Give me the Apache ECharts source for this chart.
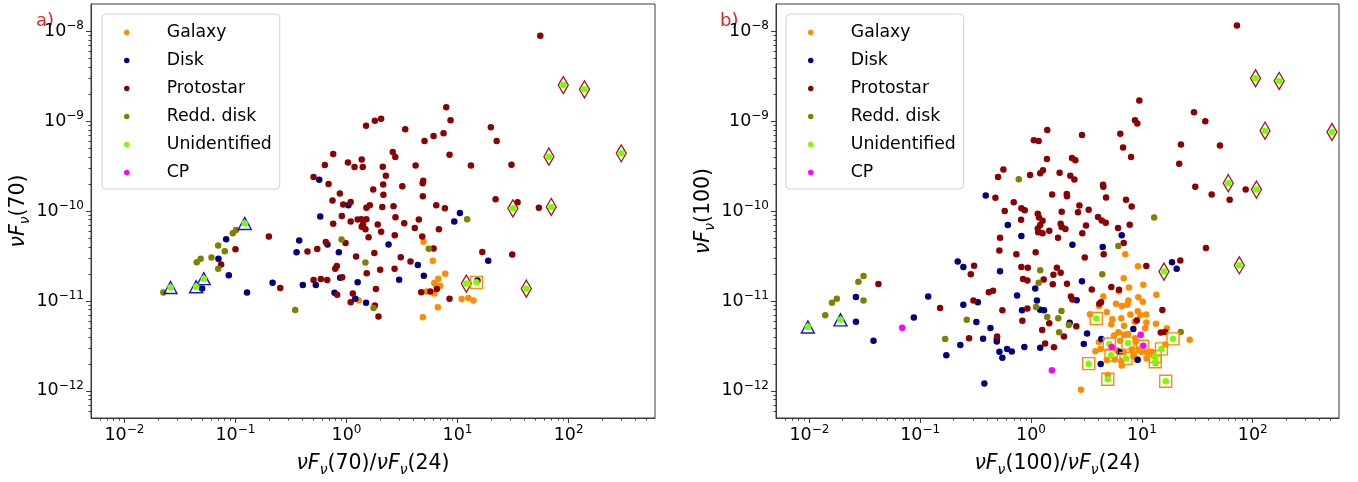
<!DOCTYPE html>
<html><head><meta charset="utf-8">
<script src="https://cdn.jsdelivr.net/npm/echarts@6/dist/echarts.min.js"></script>
<style>html,body{margin:0;padding:0;background:#fff}#c{width:1358px;height:482px}</style>
</head><body><div id="c"></div>
<script>
// ---------------- data ----------------
const CATEGORIES = ['Galaxy','Disk','Protostar','Redd. disk','Unidentified','CP'];
const X_MIN = 0.005, X_MAX = 600, Y_MIN = 5e-13, Y_MAX = 2e-8;
const MINOR_MANTISSA = [2,3,4,5,6,7,8,9];

// panel a: nuFnu(70)/nuFnu(24) vs nuFnu(70)
const A_GALAXY = [[4.94,4.55e-11],[5.99,2.79e-11],[7.74,2.01e-11],[6.70,1.77e-11],[6.17,1.58e-11],
[6.47,1.48e-11],[6.98,1.48e-11],[5.26,1.27e-11],[6.17,1.21e-11],[10.9,1.05e-11],
[12.5,1.08e-11],[13.9,1.01e-11],[1.29,1.01e-11],[6.65,8.49e-12],[4.87,6.61e-12]];
const A_DISK = [[0.568,2.22e-10],[1.04,1.16e-10],[0.580,8.67e-11],[0.375,4.70e-11],[0.355,3.48e-11],
[0.674,4.25e-11],[0.853,3.48e-11],[2.39,4.25e-11],[4.39,2.51e-11],[4.97,1.91e-11],
[2.98,1.72e-11],[0.877,1.81e-11],[1.26,1.61e-11],[0.216,1.59e-11],[0.127,1.24e-11],
[0.404,1.50e-11],[0.529,1.50e-11],[0.780,1.23e-11],[1.20,1.06e-11],[1.50,9.55e-12],
[0.0501,1.38e-11],[0.0703,2.94e-11],[0.0824,4.85e-11],[0.0871,1.93e-11],[10.5,9.51e-11],
[9.34,7.64e-11],[18.9,2.79e-11],[15.1,1.69e-11]];
const A_PROTOSTAR = [[1.50,8.87e-10],[1.80,1.01e-9],[2.05,1.06e-9],[3.38,8.13e-10],[5.04,6.01e-10],
[0.759,4.31e-10],[1.03,3.46e-10],[1.37,3.73e-10],[1.18,3.08e-10],[1.40,3.08e-10],
[2.12,3.10e-10],[2.61,4.53e-10],[2.75,3.99e-10],[4.19,3.21e-10],[0.638,3.24e-10],
[0.505,2.39e-10],[0.689,1.99e-10],[2.26,2.47e-10],[2.14,1.97e-10],[3.18,1.88e-10],
[4.91,2.17e-10],[4.85,2.04e-10],[0.871,1.57e-10],[1.74,1.73e-10],[2.15,1.52e-10],
[4.87,1.46e-10],[0.748,1.31e-10],[0.934,1.18e-10],[1.09,1.26e-10],[1.51,1.09e-10],
[1.62,1.16e-10],[2.10,1.11e-10],[2.65,1.13e-10],[0.907,8.81e-11],[0.759,7.21e-11],
[1.09,7.64e-11],[1.26,8.03e-11],[1.36,8.11e-11],[1.51,8.11e-11],[1.41,7.08e-11],
[1.37,6.68e-11],[1.48,6.25e-11],[1.91,7.08e-11],[2.76,8.53e-11],[3.31,7.33e-11],
[4.48,8.03e-11],[4.12,6.47e-11],[2.05,5.89e-11],[2.72,5.37e-11],[4.81,5.20e-11],
[0.200,5.20e-11],[0.100,3.75e-11],[0.651,4.51e-11],[0.98,4.40e-11],[0.545,3.78e-11],
[0.445,3.54e-11],[1.22,3.12e-11],[1.78,3.41e-11],[3.08,3.06e-11],[3.77,2.75e-11],
[0.818,2.44e-11],[0.791,2.28e-11],[1.52,2.03e-11],[2.01,2.22e-11],[2.71,2.28e-11],
[0.915,1.84e-11],[0.505,1.71e-11],[0.587,1.75e-11],[0.670,1.71e-11],[0.253,1.39e-11],
[1.84,1.36e-11],[1.14,1.21e-11],[0.824,1.17e-11],[1.09,9.70e-12],[1.80,8.93e-12],
[1.94,6.71e-12],[4.71,1.25e-11],[55.6,8.89e-9],[7.91,1.42e-9],[8.65,1.02e-9],
[6.08,6.82e-10],[7.48,7.30e-10],[19.95,8.55e-10],[22.5,6.01e-10],[8.47,4.23e-10],
[13.2,3.21e-10],[30.6,3.27e-10],[6.43,1.16e-10],[7.69,1.07e-10],[22.0,1.35e-10],
[34.7,1.25e-10],[54.0,1.09e-10],[6.79,6.25e-11],[1.58,5.1e-11],[6.08,3.84e-11],
[16.7,3.50e-11],[31.1,3.28e-11],[5.68,1.27e-11],[6.51,1.36e-11],[8.47,1.06e-11],
[0.0743,2.55e-11]];
const A_REDD = [[0.0224,1.24e-11],[0.0448,2.70e-11],[0.0486,2.94e-11],[0.0608,3.04e-11],[0.0699,4.14e-11],
[0.0802,3.56e-11],[0.0699,2.28e-11],[0.0946,5.65e-11],[0.1014,6.15e-11],[0.345,7.94e-12],
[0.902,4.82e-11],[1.48,2.68e-11],[1.75,8.34e-12],[5.51,3.81e-11],[12.2,8.11e-11]];
const A_CP = [];
const A_UNID_TRI = [[0.0260,1.41e-11],[0.0442,1.44e-11],[0.0518,1.77e-11],[0.1213,7.26e-11]];
const A_UNID_DIA = [[89.6,2.51e-9],[139,2.25e-9],[66.5,4.02e-10],[298,4.38e-10],[31.5,1.07e-10],
[69.8,1.11e-10],[12.0,1.56e-11],[41.6,1.37e-11]];
const A_UNID_SQ = [[14.8,1.61e-11]];

// panel b: nuFnu(100)/nuFnu(24) vs nuFnu(100)
const B_GALAXY = [[7.08,3.30e-11],[9.22,2.43e-11],[6.85,1.79e-11],[10.3,1.51e-11],[7.65,1.41e-11],
[13.5,1.17e-11],[9.28,1.10e-11],[4.49,1.12e-11],[6.18,1.28e-11],[4.10,8.77e-12],
[5.84,9.31e-12],[6.58,8.77e-12],[7.38,9.08e-12],[7.54,1.01e-11],[10.2,9.79e-12],
[4.82,7.55e-12],[3.40,7.12e-12],[7.86,7.06e-12],[9.17,7.67e-12],[9.67,6.95e-12],
[10.9,7.06e-12],[6.52,6.44e-12],[5.30,5.50e-12],[6.90,5.31e-12],[8.61,5.86e-12],
[10.96,5.78e-12],[13.4,5.58e-12],[10.7,4.97e-12],[6.13,4.49e-12],[7.49,4.30e-12],
[6.90,4.20e-12],[5.60,4.12e-12],[8.72,3.86e-12],[8.79,3.55e-12],[6.35,3.61e-12],
[4.10,3.49e-12],[16.8,4.97e-12],[27.0,3.70e-12],[16.3,3.29e-12],[3.80,2.76e-12],
[4.22,2.93e-12],[5.93,2.83e-12],[6.85,2.69e-12],[8.09,2.88e-12],[8.44,2.54e-12],
[9.36,2.88e-12],[9.96,2.72e-12],[11.0,2.69e-12],[12.2,2.72e-12],[4.82,2.20e-12],
[6.52,2.14e-12],[6.58,1.92e-12],[5.68,2.24e-12],[8.37,2.43e-12],[8.98,2.24e-12],
[11.0,2.30e-12],[12.9,2.43e-12],[4.92,1.50e-12],[13.3,2.04e-12],[2.82,1.03e-12],
[5.41,6.28e-12]];
const B_DISK = [[0.390,1.49e-10],[0.617,6.98e-11],[0.818,5.28e-11],[2.36,4.21e-11],[4.43,3.97e-11],
[6.58,5.37e-11],[0.218,2.75e-11],[0.245,2.38e-11],[0.525,2.14e-11],[2.88,1.66e-11],
[1.09,1.38e-11],[0.748,1.15e-11],[1.13,1.01e-11],[0.245,9.08e-12],[0.331,9.70e-12],
[0.829,7.87e-12],[1.21,8.01e-12],[1.31,7.87e-12],[2.58,1.02e-11],[0.118,1.12e-11],
[0.0876,6.55e-12],[0.321,5.82e-12],[0.430,5.00e-12],[0.369,3.79e-12],[0.491,3.77e-12],
[0.491,3.55e-12],[0.230,3.24e-12],[0.172,2.49e-12],[0.518,2.72e-12],[0.551,2.34e-12],
[0.608,2.93e-12],[0.670,2.74e-12],[0.870,3.08e-12],[1.21,3.01e-12],[0.379,1.21e-12],
[2.23,5.72e-12],[3.20,4.34e-12],[2.99,3.32e-12],[4.30,3.77e-12],[8.37,4.89e-12],
[6.25,2.72e-12],[4.25,1.99e-12],[9.17,2.22e-12],[18.7,2.70e-11],[20.6,2.28e-11],
[0.0263,1.11e-11],[0.0263,5.86e-12],[0.0379,3.61e-12]];
const B_PROTOSTAR = [[9.48,1.69e-9],[8.66,1.02e-9],[9.09,9.39e-10],[1.40,7.93e-10],[2.88,7.00e-10],
[1.06,6.12e-10],[1.17,6.01e-10],[6.38,7.24e-10],[6.76,5.09e-10],[7.98,3.99e-10],
[1.39,3.79e-10],[2.34,3.89e-10],[2.51,3.67e-10],[0.563,2.90e-10],[0.504,2.39e-10],
[0.98,2.52e-10],[1.21,2.62e-10],[1.28,2.83e-10],[1.81,2.67e-10],[2.26,2.47e-10],
[2.46,2.24e-10],[4.46,1.96e-10],[4.49,1.86e-10],[0.477,1.40e-10],[1.55,1.53e-10],
[2.10,1.55e-10],[2.11,1.46e-10],[4.75,1.41e-10],[7.19,1.33e-10],[8.09,1.12e-10],
[0.698,1.25e-10],[0.579,1.0e-10],[0.818,1.07e-10],[0.877,1.02e-10],[2.73,1.15e-10],
[2.65,9.68e-11],[3.31,1.03e-10],[1.89,9.82e-11],[1.15,9.33e-11],[1.18,8.45e-11],
[0.813,7.98e-11],[1.27,7.78e-11],[1.21,6.98e-11],[1.15,6.41e-11],[1.16,5.80e-11],
[1.27,5.65e-11],[1.46,6.04e-11],[1.85,7.21e-11],[1.89,6.64e-11],[2.04,6.31e-11],
[1.75,5.04e-11],[4.02,8.59e-11],[4.34,7.84e-11],[4.72,7.40e-11],[3.13,6.90e-11],
[2.90,5.65e-11],[6.09,6.47e-11],[7.76,7.03e-11],[6.85,4.40e-11],[0.525,5.04e-11],
[0.518,3.63e-11],[0.737,3.30e-11],[1.10,3.48e-11],[4.52,3.30e-11],[3.05,3.04e-11],
[0.306,2.46e-11],[0.286,1.98e-11],[0.818,2.38e-11],[0.934,2.34e-11],[1.71,2.34e-11],
[1.85,2.06e-11],[0.847,1.75e-11],[0.926,1.69e-11],[1.30,1.73e-11],[1.59,1.95e-11],
[1.57,1.53e-11],[2.11,1.55e-11],[3.53,1.34e-11],[5.30,1.43e-11],[6.22,1.33e-11],
[0.416,1.25e-11],[0.454,1.30e-11],[0.302,1.01e-11],[2.29,1.12e-11],[2.36,1.04e-11],
[4.28,9.70e-12],[4.13,9.31e-12],[0.551,7.87e-12],[0.926,8.22e-12],[0.151,8.34e-12],
[72.0,1.15e-8],[29.5,1.25e-9],[37.3,9.95e-10],[22.5,5.50e-10],[50.6,5.36e-10],
[21.7,3.35e-10],[30.3,1.86e-10],[42.6,1.53e-10],[61.9,1.33e-10],[86.3,1.73e-10],
[37.8,3.87e-11],[22.2,2.82e-11],[10.96,2.44e-11],[15.3,7.94e-12],[8.98,6.08e-12],
[1.46,5.64e-12],[2.56,5.23e-12],[1.98,4.02e-12],[1.34,3.37e-12],[1.61,3.05e-12],
[14.8,4.45e-12],[16.2,4.53e-12],[1.26,4.76e-12],[0.835,6.01e-12],[0.494,4.02e-12],
[0.276,3.86e-12],[0.0420,1.54e-11]];
const B_REDD = [[0.0139,6.95e-12],[0.0160,9.55e-12],[0.0177,1.06e-11],[0.0277,1.64e-11],[0.0308,1.90e-11],
[0.0308,1.01e-11],[0.168,3.77e-12],[0.263,6.17e-12],[0.775,2.25e-10],[1.21,2.19e-11],
[1.17,1.59e-11],[4.39,1.98e-11],[6.13,4.07e-11],[1.88,7.74e-12],[1.11,8.55e-12],
[1.40,6.65e-12],[1.76,6.44e-12],[2.19,5.40e-12],[1.79,4.49e-12],[22.4,4.53e-12],
[12.9,8.45e-11]];
const B_CP = [[0.0687,5.05e-12],[1.54,1.70e-12],[9.75,4.20e-12],[10.3,3.18e-12],[5.34,3.08e-12]];
const B_UNID_TRI = [[0.00969,5.13e-12],[0.0191,6.17e-12]];
const B_UNID_DIA = [[106,2.99e-9],[173,2.79e-9],[129,7.81e-10],[518,7.55e-10],[60.1,2.04e-10],
[108,1.73e-10],[15.8,2.12e-11],[75.6,2.49e-11]];
const B_UNID_SQ = [[3.88,6.38e-12],[5.08,3.32e-12],[7.49,3.40e-12],[5.27,2.49e-12],[7.19,2.30e-12],
[3.31,2.01e-12],[4.92,1.35e-12],[13.2,2.11e-12],[15.0,2.93e-12],[19.1,3.79e-12],
[16.4,1.28e-12],[10.1,3.14e-12],[13.2,2.41e-12]];

// ---------------- styling ----------------
const FONT = 'DejaVu Sans';
const AX = '#3a3a3a';
const COLORS = {'Galaxy':'#ff8c00','Disk':'#000080','Protostar':'#8b0000','Redd. disk':'#808000','Unidentified':'#7cfc00','CP':'#ff00ff'};

function minorTicks(lo, hi) {
  const out = [];
  for (let e = Math.floor(Math.log10(lo)); e <= Math.ceil(Math.log10(hi)); e++) {
    for (const m of MINOR_MANTISSA) {
      const v = Number((m + 'e' + e));
      if (v > lo && v < hi) out.push(v);
    }
  }
  return out;
}
const MINOR_X = minorTicks(X_MIN, X_MAX);
const MINOR_Y = minorTicks(Y_MIN, Y_MAX);

function powLabel(v) {
  const l = Math.log10(v), e = Math.round(l);
  if (Math.abs(l - e) > 1e-6) return '';
  return '{b|10}{s|' + (e < 0 ? '\u2212' + (-e) : String(e)) + '}';
}
const tickRich = {
  b: {fontFamily: FONT, fontSize: 17.5, lineHeight: 22, color: '#000'},
  s: {fontFamily: FONT, fontSize: 12, lineHeight: 12, verticalAlign: 'top', color: '#000'}
};
const nameRich = {
  i: {fontFamily: FONT, fontSize: 20.5, fontStyle: 'italic', lineHeight: 27, color: '#000'},
  n: {fontFamily: FONT, fontSize: 20.5, lineHeight: 27, color: '#000'},
  s: {fontFamily: FONT, fontSize: 14, fontStyle: 'italic', lineHeight: 11, verticalAlign: 'bottom', color: '#000'}
};
const nuF = '{i|\u03bdF}{s|\u03bd}';

function mainX(gi, name) {
  return {gridIndex: gi, type: 'log', logBase: 10, min: X_MIN, max: X_MAX, position: 'bottom',
    name: name, nameLocation: 'middle', nameGap: 32, nameTextStyle: {rich: nameRich},
    axisLine: {show: true, lineStyle: {color: AX, width: 1}},
    axisTick: {show: true, inside: false, length: 5, lineStyle: {color: AX, width: 1}},
    axisLabel: {formatter: powLabel, margin: 6, rich: tickRich, showMinLabel: false, showMaxLabel: false},
    splitLine: {show: false}};
}
function minorX(gi) {
  return {gridIndex: gi, type: 'log', logBase: 10, min: X_MIN, max: X_MAX, position: 'bottom',
    axisLine: {show: false}, axisLabel: {show: false}, splitLine: {show: false},
    axisTick: {show: true, inside: false, length: 2.5, customValues: MINOR_X, lineStyle: {color: AX, width: 1}}};
}
function mainY(gi, name) {
  return {gridIndex: gi, type: 'log', logBase: 10, min: Y_MIN, max: Y_MAX, position: 'left',
    name: name, nameLocation: 'middle', nameRotate: 90, nameGap: 56, nameTextStyle: {rich: nameRich},
    axisLine: {show: true, lineStyle: {color: AX, width: 1}},
    axisTick: {show: true, inside: false, length: 5, lineStyle: {color: AX, width: 1}},
    axisLabel: {formatter: powLabel, margin: 7, rich: tickRich, showMinLabel: false, showMaxLabel: false},
    splitLine: {show: false}};
}
function minorY(gi) {
  return {gridIndex: gi, type: 'log', logBase: 10, min: Y_MIN, max: Y_MAX, position: 'left',
    axisLine: {show: false}, axisLabel: {show: false}, splitLine: {show: false},
    axisTick: {show: true, inside: false, length: 2.5, customValues: MINOR_Y, lineStyle: {color: AX, width: 1}}};
}

function dots(name, data, ai) {
  return {type: 'scatter', name: name, data: data, xAxisIndex: ai, yAxisIndex: ai,
    symbol: 'circle', symbolSize: 6.5, itemStyle: {color: COLORS[name], opacity: 1},
    silent: true, emphasis: {disabled: true}, animation: false};
}
function outline(id, data, ai, symbol, size, color) {
  return {type: 'scatter', name: id, data: data, xAxisIndex: ai, yAxisIndex: ai,
    symbol: symbol, symbolSize: size,
    itemStyle: {color: 'rgba(0,0,0,0)', borderColor: color, borderWidth: 1.4, opacity: 1},
    silent: true, emphasis: {disabled: true}, animation: false};
}
function panelSeries(ai, tag, gal, disk, proto, redd, tri, dia, sq, cp) {
  return [
    dots('Galaxy', gal, ai), dots('Disk', disk, ai), dots('Protostar', proto, ai), dots('Redd. disk', redd, ai),
    outline('tri' + tag, tri, ai, 'triangle', [13, 12], '#1818c8'),
    outline('dia' + tag, dia, ai, 'diamond', [10, 17], '#9c1c1c'),
    outline('sq' + tag, sq, ai, 'rect', [12, 12], '#ff8c00'),
    dots('Unidentified', tri.concat(dia, sq), ai),
    dots('CP', cp, ai)
  ];
}
function legendAt(left) {
  return {left: left, top: 14, orient: 'vertical', data: CATEGORIES, icon: 'circle',
    itemWidth: 12, itemHeight: 5.5, itemGap: 11, padding: [10, 8, 8, 22],
    borderColor: '#d0d0d0', borderWidth: 1, borderRadius: 4, backgroundColor: 'rgba(255,255,255,0.85)',
    selectedMode: false, formatter: n => '{t|' + n + '}',
    textStyle: {fontFamily: FONT, fontSize: 17, color: '#000',
      rich: {t: {fontFamily: FONT, fontSize: 17.3, lineHeight: 20, padding: [0, 0, 0, 29], color: '#000'}}}};
}

const chart = echarts.init(document.getElementById('c'), null, {renderer: 'canvas'});
chart.setOption({
  animation: false,
  backgroundColor: '#fff',
  textStyle: {fontFamily: FONT},
  grid: [
    {left: 91, top: 4, width: 564, height: 420, show: true, borderColor: AX, borderWidth: 1, backgroundColor: 'transparent'},
    {left: 776, top: 4, width: 563, height: 420, show: true, borderColor: AX, borderWidth: 1, backgroundColor: 'transparent'}
  ],
  xAxis: [
    mainX(0, nuF + '{n|(70)/}' + nuF + '{n|(24)}'),
    mainX(1, nuF + '{n|(100)/}' + nuF + '{n|(24)}'),
    minorX(0), minorX(1)
  ],
  yAxis: [
    mainY(0, nuF + '{n|(70)}'),
    mainY(1, nuF + '{n|(100)}'),
    minorY(0), minorY(1)
  ],
  legend: [legendAt(102), legendAt(786)],
  graphic: [
    {type: 'text', left: 36, top: 12, style: {text: 'a)', fill: '#d62728', font: '18px "DejaVu Sans"'}},
    {type: 'text', left: 720, top: 12, style: {text: 'b)', fill: '#d62728', font: '18px "DejaVu Sans"'}}
  ],
  series: [].concat(
    panelSeries(0, 'a', A_GALAXY, A_DISK, A_PROTOSTAR, A_REDD, A_UNID_TRI, A_UNID_DIA, A_UNID_SQ, A_CP),
    panelSeries(1, 'b', B_GALAXY, B_DISK, B_PROTOSTAR, B_REDD, B_UNID_TRI, B_UNID_DIA, B_UNID_SQ, B_CP)
  )
});
</script></body></html>
